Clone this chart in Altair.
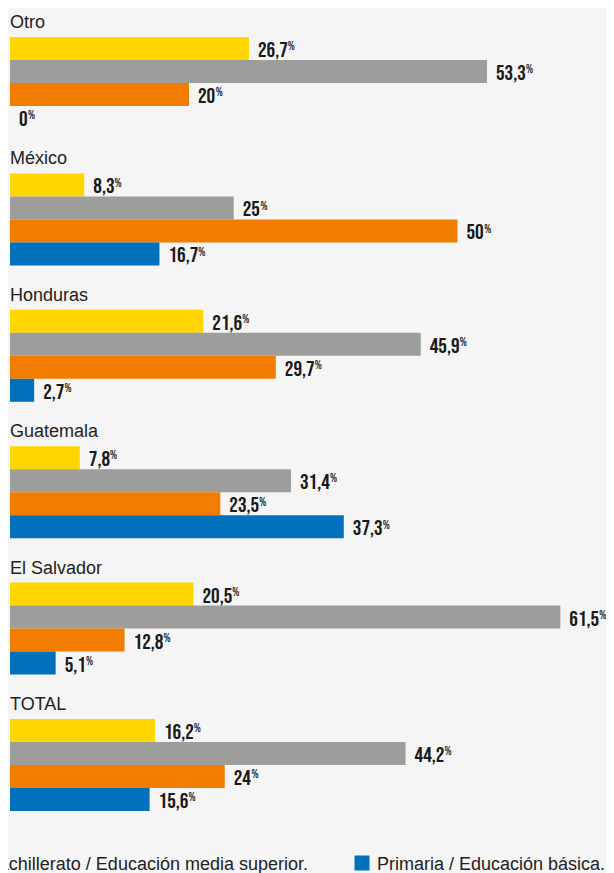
import altair as alt
import pandas as pd

grupos = ["Otro", "México", "Honduras", "Guatemala", "El Salvador", "TOTAL"]
series = [
    "Universidad / Educación superior.",
    "Secundaria / Educación media.",
    "Bachillerato / Educación media superior.",
    "Primaria / Educación básica.",
]
colores = ["#FFD600", "#9D9D9C", "#F07D00", "#0071BA"]

amarillo = [26.7, 8.3, 21.6, 7.8, 20.5, 16.2]
gris = [53.3, 25, 45.9, 31.4, 61.5, 44.2]
naranja = [20, 50, 29.7, 23.5, 12.8, 24]
azul = [0, 16.7, 2.7, 37.3, 5.1, 15.6]

valores = [amarillo, gris, naranja, azul]
rows = []
for gi, g in enumerate(grupos):
    for si, s in enumerate(series):
        rows.append({"grupo": g, "serie": s, "valor": valores[si][gi]})
df = pd.DataFrame(rows)

W = 596
H = 774
XMAX = 66.6
PX = W / XMAX
DIG = 8.6
COM = 3.6

num_font = "Bebas Neue, Oswald, sans-serif"
txt_font = "Liberation Sans, Arial, sans-serif"

color_scale = alt.Scale(domain=series, range=colores)
x_scale = alt.Scale(domain=[0, XMAX], nice=False, zero=True)
y_enc = alt.Y("grupo:N", sort=grupos, axis=None,
              scale=alt.Scale(paddingInner=0.3255, paddingOuter=0))
yoff_enc = alt.YOffset("serie:N", sort=series,
                       scale=alt.Scale(paddingInner=0, paddingOuter=0))

base = alt.Chart(df).transform_calculate(
    etiqueta="replace(format(datum.valor, '.1~f'), '.', ',')"
).transform_calculate(
    ancho=f"(length(datum.etiqueta) - (indexof(datum.etiqueta, ',') >= 0 ? 1 : 0)) * {DIG}"
          f" + (indexof(datum.etiqueta, ',') >= 0 ? {COM} : 0)"
).transform_calculate(
    xpct=f"datum.valor + (9.5 + datum.ancho) / {PX}"
)

barras = base.mark_bar(size=23, cornerRadius=0).encode(
    x=alt.X("valor:Q", scale=x_scale, axis=None),
    y=y_enc,
    yOffset=yoff_enc,
    color=alt.Color("serie:N", scale=color_scale, legend=None),
)

numeros = base.mark_text(
    align="left", baseline="alphabetic", dx=9, dy=8.5,
    font=num_font, fontWeight="normal", fontSize=21.5, color="#1a1a1a",
).encode(
    x=alt.X("valor:Q", scale=x_scale),
    y=y_enc,
    yOffset=yoff_enc,
    text="etiqueta:N",
)

pct = base.mark_text(
    align="left", baseline="alphabetic", dx=0, dy=1.8,
    font=num_font, fontWeight="normal", fontSize=12, color="#1a1a1a",
).encode(
    x=alt.X("xpct:Q", scale=x_scale),
    y=y_enc,
    yOffset=yoff_enc,
    text=alt.value("%"),
)

titulos = alt.Chart(pd.DataFrame({"grupo": grupos})).mark_text(
    align="left", baseline="alphabetic", dy=-9,
    font=txt_font, fontSize=18, color="#222222",
).encode(
    x=alt.value(0),
    y=alt.Y("grupo:N", sort=grupos, bandPosition=0, axis=None),
    text="grupo:N",
)

ley_izq = alt.Chart(pd.DataFrame({"serie": [series[2]]})).mark_text(
    align="right", baseline="alphabetic",
    font=txt_font, fontSize=18, color="#222222",
).encode(
    x=alt.value(298), y=alt.value(832.5), text="serie:N",
)

ley_sq = alt.Chart(pd.DataFrame({"serie": [series[3]]})).mark_square(
    size=225, opacity=1, filled=True,
).encode(
    x=alt.value(352), y=alt.value(826),
    color=alt.Color("serie:N", scale=color_scale, legend=None),
)

ley_der = alt.Chart(pd.DataFrame({"serie": [series[3]]})).mark_text(
    align="left", baseline="alphabetic",
    font=txt_font, fontSize=18, color="#222222",
).encode(
    x=alt.value(367), y=alt.value(832.5), text="serie:N",
)

chart = alt.layer(barras, numeros, pct, titulos, ley_izq, ley_sq, ley_der).properties(
    width=W, height=H,
    autosize=alt.AutoSizeParams(type="none"),
    padding={"left": 2, "top": 29, "right": 0, "bottom": 62},
    background="#F5F5F5",
).configure_view(stroke=None)

chart.save("out.html", embed_options={"renderer": "svg", "actions": False})
